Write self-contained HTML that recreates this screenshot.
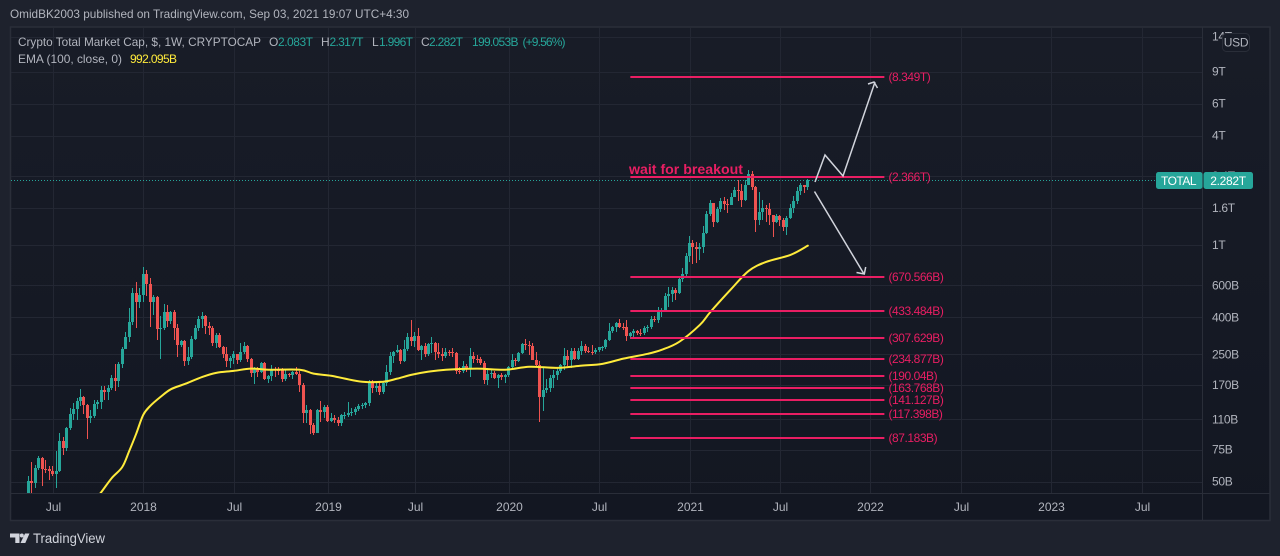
<!DOCTYPE html>
<html lang="en">
<head>
<meta charset="utf-8">
<title>Crypto Total Market Cap chart</title>
<style>
html,body{margin:0;padding:0;background:#1e222d;width:1280px;height:556px;overflow:hidden}
svg{display:block}
text{font-family:"Liberation Sans",sans-serif;font-size:12px;fill:#b2b5be}
</style>
</head>
<body>
<svg id="chart" xmlns="http://www.w3.org/2000/svg" width="1280" height="556" viewBox="0 0 1280 556">
  <defs>
    <linearGradient id="paneFill" x1="0" y1="0" x2="0" y2="1">
      <stop offset="0" stop-color="#181c27"/>
      <stop offset="1" stop-color="#131722"/>
    </linearGradient>
    <clipPath id="plotClip"><rect x="11" y="28" width="1191" height="465"/></clipPath>
  </defs>
  <rect width="1280" height="556" fill="#1e222d"/>
  <text x="10" y="18" textLength="399" lengthAdjust="spacingAndGlyphs">OmidBK2003 published on TradingView.com, Sep 03, 2021 19:07 UTC+4:30</text>
  <rect x="10.5" y="27" width="1259.5" height="493.5" fill="url(#paneFill)" stroke="#2a2e39" stroke-width="1.5"/>
  <g id="grid"></g>
  <g id="marks" clip-path="url(#plotClip)">
    <line x1="11" x2="1156" y1="180.5" y2="180.5" stroke="#26a69a" stroke-width="1" stroke-dasharray="1 2"/>
    <g id="candles"></g>
    <path id="emaLine" fill="none" stroke="#ffeb3b" stroke-width="2" stroke-linejoin="round" stroke-linecap="round"/>
    <g id="levels"></g>
  </g>
  <g fill="none" stroke="#d1d4dc" stroke-width="1.5">
    <polyline points="815,182 825,155 843,176 875,82"/>
    <polyline points="868,84 874,82 877.5,88"/>
  </g>
  <g fill="none" stroke="#d1d4dc" stroke-width="1.5">
    <line x1="814.5" y1="191.5" x2="864" y2="274"/>
    <polyline points="856.5,272.5 864.3,274 865.7,267"/>
  </g>
  <text x="629" y="174" textLength="114" lengthAdjust="spacingAndGlyphs" style="font-size:14px;font-weight:bold;fill:#e91e63">wait for breakout</text>
  <line x1="1202.5" x2="1202.5" y1="27" y2="520" stroke="#2a2e39"/>
  <line x1="10" x2="1270" y1="493.5" y2="493.5" stroke="#2a2e39"/>
  <g id="priceAxis" style="letter-spacing:-0.3px"></g>
  <g id="timeAxis"></g>
  <g id="levelLabels" style="letter-spacing:-0.45px"></g>

  <g>
    <text x="18" y="46" textLength="243" lengthAdjust="spacingAndGlyphs">Crypto Total Market Cap, $, 1W, CRYPTOCAP</text>
    <text x="269" y="46">O</text>
    <text x="278" y="46" textLength="35" lengthAdjust="spacing" style="fill:#26a69a">2.083T</text>
    <text x="321" y="46">H</text>
    <text x="329.5" y="46" textLength="34" lengthAdjust="spacing" style="fill:#26a69a">2.317T</text>
    <text x="372" y="46">L</text>
    <text x="379" y="46" textLength="34" lengthAdjust="spacing" style="fill:#26a69a">1.996T</text>
    <text x="421" y="46">C</text>
    <text x="429" y="46" textLength="34" lengthAdjust="spacing" style="fill:#26a69a">2.282T</text>
    <text x="472" y="46" textLength="46.5" lengthAdjust="spacing" style="fill:#26a69a">199.053B</text>
    <text x="522.5" y="46" textLength="43" lengthAdjust="spacing" style="fill:#26a69a">(+9.56%)</text>
    <text x="18" y="63" textLength="104" lengthAdjust="spacingAndGlyphs">EMA (100, close, 0)</text>
    <text x="130" y="63" textLength="47" lengthAdjust="spacing" style="fill:#ffeb3b">992.095B</text>
  </g>

  <g>
    <rect x="1222.5" y="33.5" width="27" height="18" rx="4" fill="#171b26" stroke="#2a2e39"/>
    <text x="1236" y="46.5" text-anchor="middle" style="letter-spacing:-0.3px">USD</text>
  </g>

  <g>
    <rect x="1156" y="172" width="46.5" height="17" rx="2.5" fill="#26a69a"/>
    <rect x="1203.5" y="172" width="49.5" height="17" rx="2.5" fill="#26a69a"/>
    <text x="1178.5" y="185" text-anchor="middle" style="fill:#fff;letter-spacing:-0.5px">TOTAL</text>
    <text x="1228" y="185" text-anchor="middle" style="fill:#fff;letter-spacing:-0.3px">2.282T</text>
  </g>

  <g>
    <path d="M10 533.5h9.5v9.5h-4.2v-5.5H10zM25 533.5h4.5L25.3 543h-4.8z" fill="#d1d4dc"/>
    <circle cx="21.8" cy="535.5" r="2" fill="#d1d4dc"/>
    <text x="33" y="543" textLength="72" lengthAdjust="spacingAndGlyphs" style="font-size:13.5px;fill:#d1d4dc">TradingView</text>
  </g>
</svg>
<script>
// Weekly candles, values in billions of USD. Each open is the previous close.
const firstOpen = 42;
const closes = [50.3,49,59.3,67.3,58.6,58.3,56.8,55,57.1,83.6,
76.5,98.6,118,125,139,146,132,112,115,134,
137,160,156,164,186,179,222,268,313,378,
545,486,531,693,611,486,518,346,348,428,
382,428,350,282,297,231,243,305,350,392,
407,359,350,290,321,275,252,231,240,252,
234,258,279,237,198,209,201,225,184,191,
209,206,205,184,196,193,201,196,170,119,
124,102,92.6,124,121,129,108,112,109,105,
116,116,119,121,125,130,132,135,175,164,
168,156,175,201,246,258,265,231,268,313,
297,317,265,279,252,286,290,258,252,246,
258,257,255,203,202,217,211,246,237,236,
225,181,196,198,186,193,188,193,214,234,
231,255,286,282,279,234,219,146,160,164,
186,193,203,219,246,234,262,237,262,279,
262,258,257,265,275,276,301,337,355,373,
355,353,317,329,337,329,327,350,355,392,
387,434,439,525,538,566,545,651,693,871,
1026,975,951,975,1165,1482,1703,1340,1579,1747,
1682,1661,1838,2008,1983,1769,2140,2460,2086,1374,
1520,1599,1579,1463,1340,1445,1374,1258,1409,1599,
1747,1983,2140,2083,2282];
const highs = [53.6,64,61.6,69.1,68.2,65.7,60.9,60.9,73.6,92.6,
88,99.8,127,135,144,162,148,134,124,140,
140,168,168,170,193,222,228,275,333,451,
581,626,581,757,729,659,531,525,407,474,
468,434,439,368,301,301,275,317,364,407,
428,412,378,359,329,329,279,275,246,262,
252,290,293,282,240,214,214,228,228,193,
219,214,214,211,206,198,203,214,203,175,
132,125,105,125,139,132,132,119,116,113,
118,121,137,127,129,134,135,137,181,181,
175,177,177,219,258,262,282,268,301,329,
387,333,350,282,290,290,313,293,290,272,
272,265,272,258,214,231,222,272,258,249,
243,231,211,206,203,196,198,196,217,252,
240,258,290,305,297,290,258,231,214,184,
193,206,211,222,272,265,272,272,272,297,
286,275,282,272,276,279,305,373,359,378,
392,373,387,333,346,341,346,359,364,407,
407,456,451,545,588,588,581,659,748,904,
1122,1065,1039,1026,1274,1539,1769,1703,1619,1815,
1838,1792,1933,2086,2280,2167,2280,2587,2555,2113,
1958,1769,1661,1703,1463,1482,1463,1409,1445,1682,
1861,2086,2200,2140,2317];
const lows = [42,42,46,57.9,47.2,55.7,51,53.6,46,56.4,
70,73.6,96.2,109,109,130,118,85.8,105,112,
125,125,140,140,160,158,166,211,268,293,
364,350,451,486,525,355,412,301,237,341,
355,368,301,243,275,217,219,237,301,337,
350,325,321,279,272,272,240,214,211,222,
222,228,252,228,188,172,188,198,181,175,
179,188,193,177,179,188,184,193,156,105,
105,91.5,90.3,92.6,106,112,106,106,105,101,
101,110,113,115,116,122,125,127,130,154,
156,150,152,168,193,225,255,222,228,262,
279,275,262,234,243,246,255,234,240,231,
240,246,243,196,196,198,201,188,225,225,
219,172,170,186,184,164,181,175,188,211,
217,228,252,265,249,234,217,106,122,154,
156,164,181,198,206,217,211,234,234,249,
255,255,249,252,258,262,268,297,329,333,
350,341,297,305,313,321,317,321,333,346,
378,373,402,428,456,486,499,538,626,667,
807,787,797,827,904,1150,1445,1258,1323,1520,
1559,1501,1661,1838,1747,1619,1747,2140,2008,1180,
1290,1374,1340,1290,1108,1323,1274,1195,1136,1391,
1501,1682,1885,1933,1996];

const emaWeeks = [18,21,24,27,29,31,33,35,38,41,45,50,54,59,64,69,78,82,87,91,96,102,106,110,115,120,129,137,144,152,159,165,171,178,182,187,193,196,202,207,212,219,224];
const emaValues = [37,43.8,52.3,60.1,73.6,91.5,116,130,146,161,172,188,198,203,209,206,206,196,191,184,177,177,184,193,201,206,209,206,214,211,217,222,237,252,265,293,364,428,573,720,807,882,992];

// Drawn horizontal levels.
const levelValues = [8349,2366,670.566,433.484,307.629,234.877,190.04,163.768,141.127,117.398,87.183];
const levelLabelText = ["(8.349T)","(2.366T)","(670.566B)","(433.484B)","(307.629B)","(234.877B)","(190.04B)","(163.768B)","(141.127B)","(117.398B)","(87.183B)"];
const levelStartWeek = 173;
const levelEndWeek = 246;

// Axis ticks.
const priceTickValues = [14000,9000,6000,4000,2400,1600,1000,600,400,250,170,110,75,50];
const priceTickLabels = ["14T","9T","6T","4T","2.4T","1.6T","1T","600B","400B","250B","170B","110B","75B","50B"];
const timeTickWeeks = [7,33,59,86,111,138,164,190,216,242,268,294,320];
const timeTickLabels = ["Jul","2018","Jul","2019","Jul","2020","Jul","2021","Jul","2022","Jul","2023","Jul"];

const SVGNS = "http://www.w3.org/2000/svg";
function xScale(week){ return 28.3 + 3.48 * week; }
function yScale(value){ return 245 - 78.95 * Math.log(value / 1000); }
function make(tag, attrs){
  const el = document.createElementNS(SVGNS, tag);
  for (const k in attrs) el.setAttribute(k, attrs[k]);
  return el;
}

// Grid and axis labels
const gridGroup = document.getElementById("grid");
const priceAxisGroup = document.getElementById("priceAxis");
const timeAxisGroup = document.getElementById("timeAxis");
priceTickValues.forEach(function(v, i){
  const y = Math.round(yScale(v)) + 0.5;
  const g = make("line", {x1: 11, x2: 1202, y1: y, y2: y, stroke: "#232733", "stroke-width": 1});
  
  
  gridGroup.appendChild(g);
  const t = make("text", {x: 1212, y: yScale(v) + 4});
  
  
  t.textContent = priceTickLabels[i];
  priceAxisGroup.appendChild(t);
});
timeTickWeeks.forEach(function(w, i){
  const x = Math.round(xScale(w)) + 0.5;
  const g = make("line", {x1: x, x2: x, y1: 28, y2: 493, stroke: "#232733", "stroke-width": 1});
  
  
  gridGroup.appendChild(g);
  const t = make("text", {x: x, y: 511, "text-anchor": "middle"});
  
  
  t.textContent = timeTickLabels[i];
  timeAxisGroup.appendChild(t);
});

// Candles, snapped to whole pixels for crisp bodies and wicks
const candleGroup = document.getElementById("candles");
closes.forEach(function(close, i){
  const open = i === 0 ? firstOpen : closes[i - 1];
  const color = close >= open ? "#26a69a" : "#ef5350";
  const x = Math.round(xScale(i) - 0.5) + 0.5;
  const g = make("g", {});
  
  
  const wick = make("line", {x1: x, x2: x, y1: Math.round(yScale(highs[i])), y2: Math.round(yScale(lows[i])), stroke: color, "stroke-width": 1});
  
  
  const yTop = Math.round(yScale(Math.max(open, close)));
  const yBot = Math.round(yScale(Math.min(open, close)));
  const body = make("rect", {x: x - 1.5, y: yTop, width: 3, height: Math.max(1, yBot - yTop), fill: color});
  
  
  g.appendChild(wick);
  g.appendChild(body);
  candleGroup.appendChild(g);
});

// EMA: smooth curve through the sampled values
const emaPoints = emaWeeks.map(function(w, i){ return [xScale(w), yScale(emaValues[i])]; });
let emaPath = "M" + emaPoints[0][0].toFixed(2) + " " + emaPoints[0][1].toFixed(2);
for (let i = 0; i < emaPoints.length - 1; i++) {
  const p0 = emaPoints[Math.max(0, i - 1)];
  const p1 = emaPoints[i];
  const p2 = emaPoints[i + 1];
  const p3 = emaPoints[Math.min(emaPoints.length - 1, i + 2)];
  const c1x = p1[0] + (p2[0] - p0[0]) / 6;
  const c1y = p1[1] + (p2[1] - p0[1]) / 6;
  const c2x = p2[0] - (p3[0] - p1[0]) / 6;
  const c2y = p2[1] - (p3[1] - p1[1]) / 6;
  emaPath += "C" + c1x.toFixed(2) + " " + c1y.toFixed(2) + " " + c2x.toFixed(2) + " " + c2y.toFixed(2) + " " + p2[0].toFixed(2) + " " + p2[1].toFixed(2);
}
document.getElementById("emaLine").setAttribute("d", emaPath);

// Horizontal levels with labels
const levelGroup = document.getElementById("levels");
const levelLabelGroup = document.getElementById("levelLabels");
levelValues.forEach(function(v, i){
  const y = Math.round(yScale(v));
  const l = make("line", {x1: xScale(levelStartWeek), x2: xScale(levelEndWeek), y1: y, y2: y, stroke: "#e91e63", "stroke-width": 2});
  
  
  levelGroup.appendChild(l);
  const t = make("text", {x: 888.5, y: y + 4, style: "fill:#e91e63"});
  
  
  t.textContent = levelLabelText[i];
  levelLabelGroup.appendChild(t);
});
</script>
</body>
</html>
